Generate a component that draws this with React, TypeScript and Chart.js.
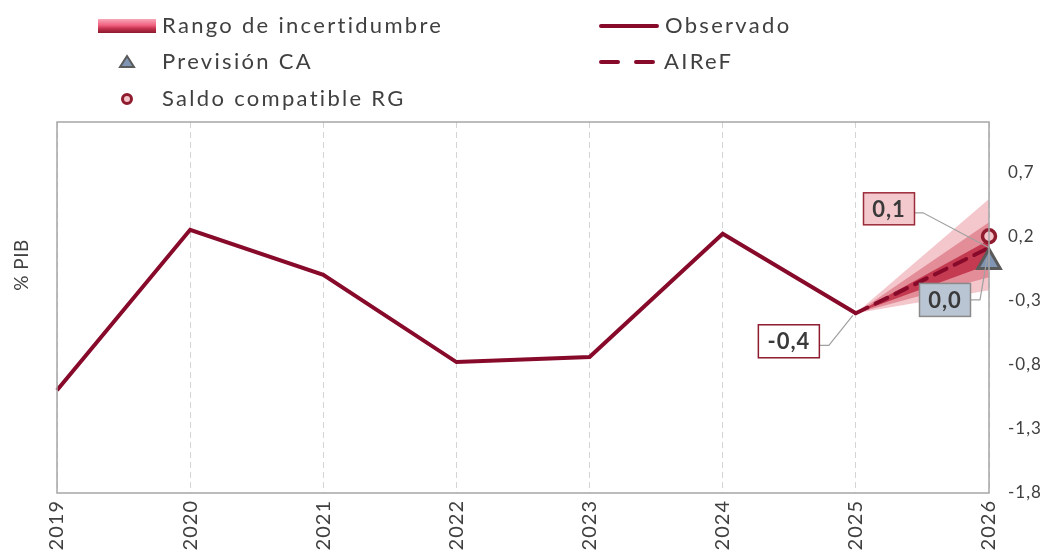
import React, { useEffect, useRef } from 'react';
import { Chart, registerables } from 'chart.js';

Chart.register(...registerables);

const years = ['2019', '2020', '2021', '2022', '2023', '2024', '2025', '2026'];
const observado = [-1.0, 0.25, -0.1, -0.78, -0.74, 0.22, -0.4, null];
const airef = [null, null, null, null, null, null, -0.4, 0.11];
const prevCA = [null, null, null, null, null, null, null, 0.0];
const saldoRG = [null, null, null, null, null, null, null, 0.2];
const outerUpper = [null, null, null, null, null, null, -0.4, 0.49];
const outerLower = [null, null, null, null, null, null, -0.4, -0.22];
const midUpper = [null, null, null, null, null, null, -0.4, 0.31];
const midLower = [null, null, null, null, null, null, -0.4, -0.12];
const innerUpper = [null, null, null, null, null, null, -0.4, 0.17];
const innerLower = [null, null, null, null, null, null, -0.4, -0.02];
const yTicks = [-1.8, -1.3, -0.8, -0.3, 0.2, 0.7];
const labelObs = '-0,4';
const labelAiref = '0,1';
const labelCA = '0,0';

const DARK = '#870a2b';
const TEXT = '#404040';
const FONT = 'Lato, "Open Sans", sans-serif';

const fmt = (v: number) => v.toFixed(1).replace('.', ',');

const decorPlugin = {
  id: 'decor',
  beforeDraw(chart: any) {
    (chart.ctx as any).letterSpacing = '1px';
  },
  afterDatasetsDraw(chart: any) {
    const { ctx, chartArea: a, scales } = chart;
    const x = scales.x;
    const y = scales.y;
    ctx.save();
    // frame
    ctx.strokeStyle = '#a6a6a6';
    ctx.lineWidth = 1.5;
    ctx.strokeRect(a.left, a.top, a.right - a.left, a.bottom - a.top);

    const box = (cx: number, cy: number, w: number, h: number, text: string, fill: string, stroke: string) => {
      ctx.fillStyle = fill;
      ctx.fillRect(cx - w / 2, cy - h / 2, w, h);
      ctx.strokeStyle = stroke;
      ctx.lineWidth = 1.5;
      ctx.strokeRect(cx - w / 2, cy - h / 2, w, h);
      ctx.fillStyle = '#3a3a3a';
      ctx.font = 'bold 22px ' + FONT;
      ctx.textAlign = 'center';
      ctx.textBaseline = 'middle';
      ctx.fillText(text, cx, cy + 1);
    };
    const connector = (pts: number[][]) => {
      ctx.strokeStyle = '#a0a0a0';
      ctx.lineWidth = 1.2;
      ctx.beginPath();
      ctx.moveTo(pts[0][0], pts[0][1]);
      for (let i = 1; i < pts.length; i++) ctx.lineTo(pts[i][0], pts[i][1]);
      ctx.stroke();
    };

    // -0,4 label at 2025
    const px = x.getPixelForValue(6);
    const py = y.getPixelForValue(observado[6] as number);
    connector([[px - 36, py + 32], [px - 27, py + 32], [px - 3, py + 2]]);
    box(px - 67, py + 28, 61, 33, labelObs, '#ffffff', '#8e1b2e');

    // 0,1 label at 2026 AIReF
    const ax = x.getPixelForValue(7);
    const ay = y.getPixelForValue(airef[7] as number);
    connector([[ax - 75, ay - 35], [ax - 66, ay - 35], [ax, ay]]);
    box(ax - 100, ay - 39, 51, 32, labelAiref, '#f4c9cd', '#9b2a3a');

    // 0,0 label at 2026 CA
    const cy = y.getPixelForValue(prevCA[7] as number);
    connector([[ax - 18, cy + 38], [ax - 9, cy + 38], [ax - 2, cy - 3]]);
    box(ax - 44, cy + 38, 51, 33, labelCA, '#b9c5d3', '#8a8a8a');
    ctx.restore();
  },
  afterDraw(chart: any) {
    const { ctx } = chart;
    ctx.save();
    // y title
    ctx.save();
    ctx.translate(22, 265);
    ctx.rotate(-Math.PI / 2);
    ctx.fillStyle = TEXT;
    ctx.font = '19px ' + FONT;
    (ctx as any).letterSpacing = '0.5px';
    ctx.textAlign = 'center';
    ctx.textBaseline = 'middle';
    ctx.fillText('% PIB', 0, 0);
    ctx.restore();

    // legend
    ctx.font = '22px ' + FONT;
    (ctx as any).letterSpacing = '2.3px';
    ctx.fillStyle = TEXT;
    ctx.textAlign = 'left';
    ctx.textBaseline = 'middle';
    const g = ctx.createLinearGradient(0, 19, 0, 33);
    g.addColorStop(0, '#f7a8b8');
    g.addColorStop(0.45, '#f0607f');
    g.addColorStop(0.7, '#c0304c');
    g.addColorStop(1, '#8b1a2c');
    ctx.fillStyle = g;
    ctx.fillRect(98, 19, 58, 14);
    ctx.fillStyle = TEXT;
    ctx.fillText('Rango de incertidumbre', 162, 26);
    ctx.fillText('Previsión CA', 162, 62);
    ctx.fillText('Saldo compatible RG', 162, 99);
    ctx.fillText('Observado', 665, 26);
    ctx.fillText('AIReF', 664, 62);

    // triangle marker
    ctx.beginPath();
    ctx.moveTo(127, 56);
    ctx.lineTo(134, 67);
    ctx.lineTo(120, 67);
    ctx.closePath();
    ctx.fillStyle = '#7f95b3';
    ctx.fill();
    ctx.strokeStyle = '#5a5a5a';
    ctx.lineWidth = 2;
    ctx.stroke();
    // circle marker
    ctx.beginPath();
    ctx.arc(127, 99, 4.5, 0, Math.PI * 2);
    ctx.fillStyle = '#f3c4c9';
    ctx.fill();
    ctx.strokeStyle = '#8e1b2e';
    ctx.lineWidth = 3;
    ctx.stroke();
    // line samples
    ctx.strokeStyle = DARK;
    ctx.lineWidth = 4;
    ctx.lineCap = 'round';
    ctx.beginPath();
    ctx.moveTo(601, 26);
    ctx.lineTo(657, 26);
    ctx.stroke();
    ctx.beginPath();
    ctx.moveTo(601, 62);
    ctx.lineTo(618, 62);
    ctx.moveTo(636, 62);
    ctx.lineTo(653, 62);
    ctx.stroke();
    ctx.restore();
  },
};

export default function App() {
  const ref = useRef<HTMLCanvasElement>(null);
  useEffect(() => {
    document.body.style.margin = '0';
    document.body.style.overflow = 'hidden';
    const band = (data: (number | null)[], color: string, fill: any) => ({
      type: 'line' as const,
      data,
      borderWidth: 0,
      borderColor: 'rgba(0,0,0,0)',
      backgroundColor: color,
      pointRadius: 0,
      fill,
      tension: 0,
    });
    const chart = new Chart(ref.current as HTMLCanvasElement, {
      type: 'line',
      data: {
        labels: years,
        datasets: [
          {
            data: saldoRG,
            showLine: false,
            pointStyle: 'circle',
            pointRadius: 6.5,
            pointBackgroundColor: '#f3c4c9',
            pointBorderColor: '#8e1b2e',
            pointBorderWidth: 3.5,
            clip: false,
          } as any,
          {
            data: prevCA,
            showLine: false,
            pointStyle: 'triangle',
            pointRadius: 13,
            pointBackgroundColor: '#7f95b3',
            pointBorderColor: '#5a5a5a',
            pointBorderWidth: 3,
            clip: false,
          } as any,
          {
            data: observado,
            borderColor: DARK,
            borderWidth: 4,
            pointRadius: 0,
            fill: false,
            borderJoinStyle: 'miter',
          } as any,
          {
            data: airef,
            borderColor: DARK,
            borderWidth: 4,
            borderDash: [13, 9],
            borderCapStyle: 'round',
            pointRadius: 0,
            fill: false,
          } as any,
          band(innerUpper, '#c43a50', '+1'),
          band(innerLower, 'rgba(0,0,0,0)', false),
          band(midUpper, '#e38d99', '+1'),
          band(midLower, 'rgba(0,0,0,0)', false),
          band(outerUpper, '#f4c7cc', '+1'),
          band(outerLower, 'rgba(0,0,0,0)', false),
        ],
      },
      options: {
        animation: false,
        responsive: true,
        maintainAspectRatio: false,
        layout: { padding: { left: 57, top: 122, right: 0, bottom: 0 } },
        plugins: {
          legend: { display: false },
          tooltip: { enabled: false },
        },
        scales: {
          x: {
            offset: false,
            grid: { display: true, color: '#d4d4d4', lineWidth: 1, drawTicks: false },
            border: { display: false, dash: [6, 4] },
            ticks: {
              maxRotation: 90,
              minRotation: 90,
              padding: 7,
              color: TEXT,
              font: { family: FONT, size: 20 },
            },
            afterFit: (s: any) => {
              s.height = 61;
            },
          },
          y: {
            position: 'right',
            min: -1.8,
            max: 1.09,
            grid: { display: false, drawTicks: false },
            border: { display: false },
            ticks: {
              padding: 19,
              color: TEXT,
              font: { family: FONT, size: 17 },
              callback: (v: any) => fmt(Number(v)),
            },
            afterBuildTicks: (s: any) => {
              s.ticks = yTicks.map((v) => ({ value: v }));
            },
            afterFit: (s: any) => {
              s.width = 57;
            },
          },
        },
      },
      plugins: [decorPlugin],
    });
    return () => chart.destroy();
  }, []);
  return (
    <div style={{ width: 1046, height: 554, position: 'relative' }}>
      <canvas ref={ref} />
    </div>
  );
}
